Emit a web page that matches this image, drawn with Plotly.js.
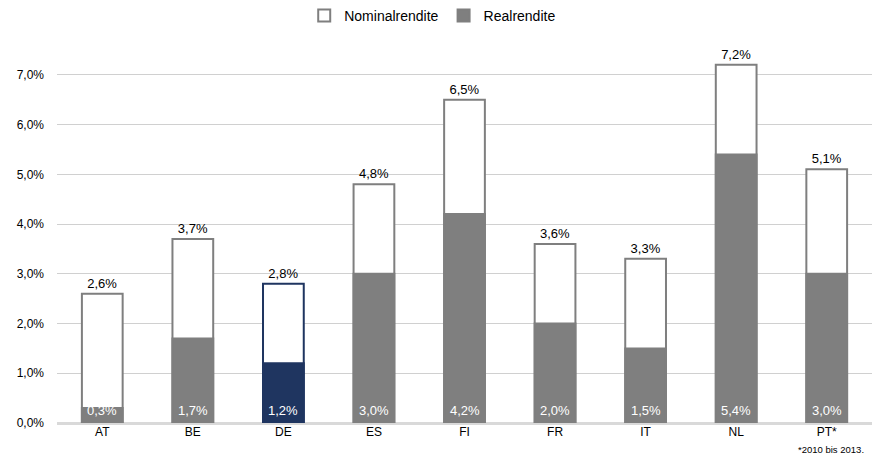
<!DOCTYPE html>
<html>
<head>
<meta charset="utf-8">
<script src="https://cdn.plot.ly/plotly-3.0.1.min.js"></script>
<style>
  html, body { margin: 0; padding: 0; background: #fff; }
  #chart { width: 874px; height: 466px; }
</style>
</head>
<body>
<div id="chart"></div>
<script>
// Countries and returns in percent
const countries = ['AT', 'BE', 'DE', 'ES', 'FI', 'FR', 'IT', 'NL', 'PT*'];
const nominal = [2.6, 3.7, 2.8, 4.8, 6.5, 3.6, 3.3, 7.2, 5.1];
const real = [0.3, 1.7, 1.2, 3.0, 4.2, 2.0, 1.5, 5.4, 3.0];
const yTicks = [0, 1, 2, 3, 4, 5, 6, 7];
const highlight = 'DE';

const GRAY = '#7f7f7f';
const NAVY = '#1f3560';
const fmt = v => v.toFixed(1).replace('.', ',') + '%';
const colorFor = c => (c === highlight ? NAVY : GRAY);
const FONT = 'Liberation Sans, Arial, sans-serif';
const BAR_W = 0.45;

const nominalTrace = {
  type: 'bar',
  name: 'Nominalrendite',
  x: countries,
  y: nominal,
  width: BAR_W,
  marker: {
    color: '#ffffff',
    line: { color: countries.map(colorFor), width: 2 }
  },
  text: nominal.map(fmt),
  textposition: 'outside',
  textfont: { family: FONT, size: 13, color: '#000' },
  cliponaxis: false,
  hoverinfo: 'x+y'
};

const realTrace = {
  type: 'bar',
  name: 'Realrendite',
  x: countries,
  y: real,
  width: BAR_W,
  marker: {
    color: countries.map(colorFor),
    line: { color: countries.map(colorFor), width: 2 }
  },
  hoverinfo: 'x+y'
};

// Real return labels sit at the foot of each bar
const realLabels = countries.map((c, i) => ({
  x: c,
  y: 0,
  xref: 'x',
  yref: 'y',
  text: fmt(real[i]),
  showarrow: false,
  yanchor: 'bottom',
  yshift: 3,
  font: { family: FONT, size: 13, color: '#ffffff' }
}));

const layout = {
  width: 874,
  height: 466,
  margin: { l: 57, r: 2, t: 40, b: 43 },
  paper_bgcolor: '#fff',
  plot_bgcolor: '#fff',
  barmode: 'overlay',
  font: { family: FONT, size: 12, color: '#000' },
  showlegend: true,
  legend: {
    orientation: 'h',
    x: 0.461,
    xanchor: 'center',
    y: 1.0,
    yref: 'container',
    yanchor: 'top',
    font: { size: 14, color: '#000' },
    traceorder: 'normal',
    itemwidth: 30
  },
  xaxis: {
    type: 'category',
    showgrid: false,
    showline: false,
    ticks: '',
    tickfont: { size: 12, color: '#000' },
    fixedrange: true
  },
  yaxis: {
    range: [0, 7.7],
    tickmode: 'array',
    tickvals: yTicks,
    ticktext: yTicks.map(fmt),
    showgrid: true,
    gridcolor: '#d0d0d0',
    gridwidth: 1,
    zeroline: true,
    zerolinecolor: '#d9d9d9',
    zerolinewidth: 3,
    showline: false,
    ticks: '',
    ticklabelstandoff: 12,
    tickfont: { size: 12, color: '#000' },
    fixedrange: true
  },
  annotations: realLabels.concat([{
    text: '*2010 bis 2013.',
    xref: 'paper',
    yref: 'paper',
    x: 0.9925,
    y: -0.05,
    xanchor: 'right',
    yanchor: 'top',
    showarrow: false,
    font: { size: 9.5, color: '#000' }
  }])
};

Plotly.newPlot('chart', [nominalTrace, realTrace], layout, { displayModeBar: false, staticPlot: true });
</script>
</body>
</html>
